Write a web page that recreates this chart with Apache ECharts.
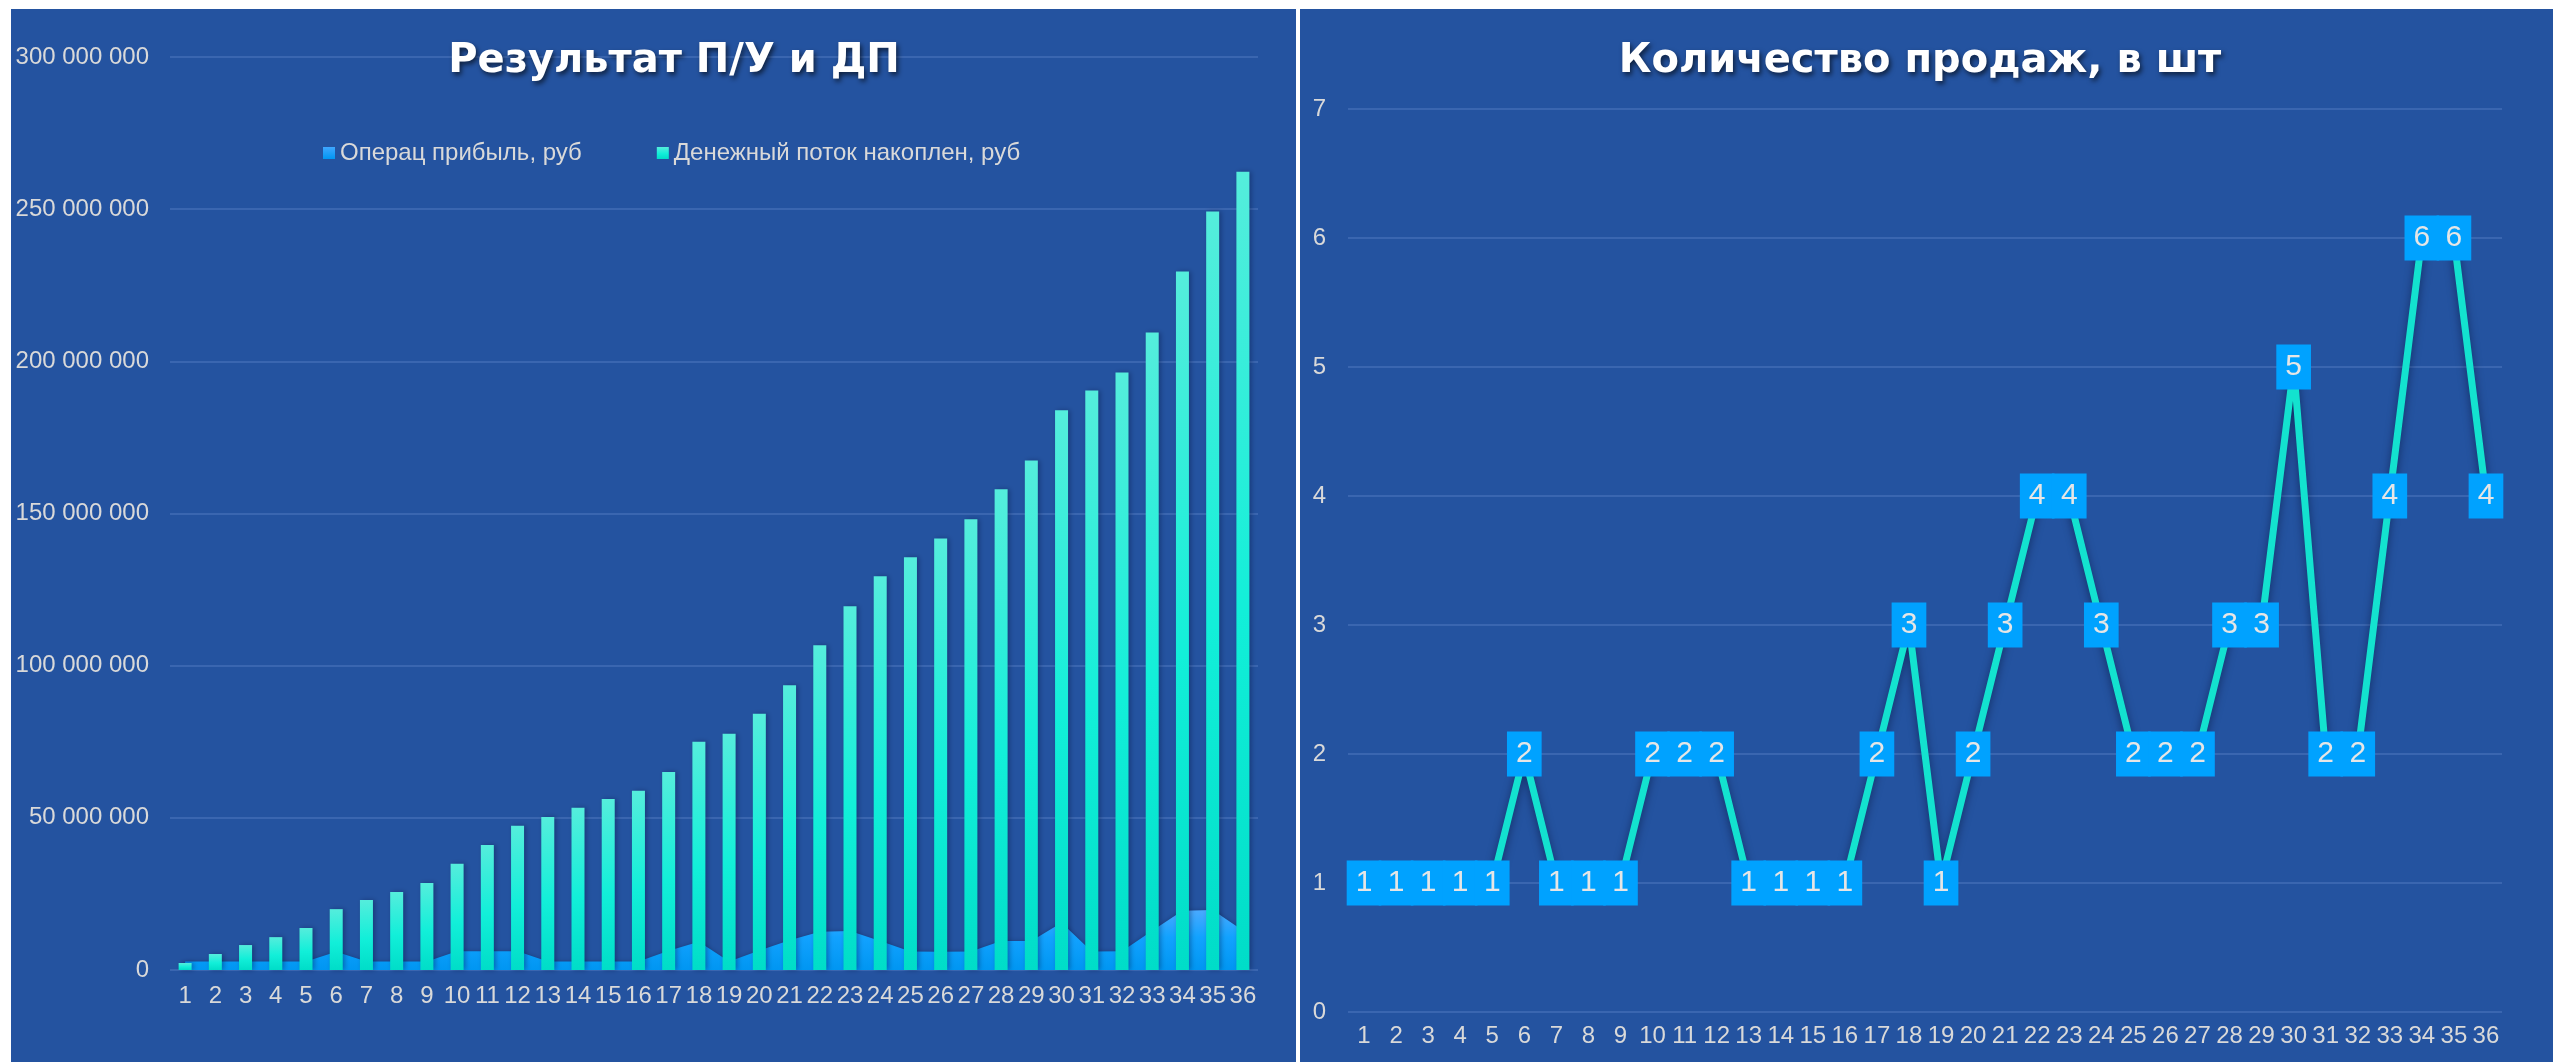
<!DOCTYPE html>
<html>
<head>
<meta charset="utf-8">
<script src="https://cdn.jsdelivr.net/npm/echarts@6/dist/echarts.min.js"></script>
<style>
html,body{margin:0;padding:0;background:#ffffff;width:2553px;height:1062px;overflow:hidden;}
#left{position:absolute;left:11px;top:9px;width:1285px;height:1053px;background:#2453A0;}
#right{position:absolute;left:1300px;top:9px;width:1253px;height:1053px;background:#2453A0;}
</style>
</head>
<body>
<div id="left"></div>
<div id="right"></div>
<script>
// ---- data ----
const months = ['1','2','3','4','5','6','7','8','9','10','11','12','13','14','15','16','17','18','19','20','21','22','23','24','25','26','27','28','29','30','31','32','33','34','35','36'];
const opProfit = [2800000,2800000,2800000,2800000,2800000,6000000,2800000,2800000,2800000,6200000,6200000,6200000,2800000,2800000,2800000,2800000,6300000,9300000,2800000,6400000,9800000,12600000,12800000,9500000,6100000,6000000,6100000,9500000,9500000,15500000,6100000,6200000,12900000,19500000,19700000,13000000];
const cashCum = [2300000,5250000,8200000,10800000,13800000,20000000,23000000,25600000,28600000,34900000,41100000,47400000,50300000,53300000,56200000,58900000,65100000,75000000,77600000,84200000,93600000,106700000,119500000,129400000,135600000,141800000,148100000,158000000,167400000,183900000,190400000,196300000,209500000,229500000,249200000,262300000];
const sales = [1,1,1,1,1,2,1,1,1,2,2,2,1,1,1,1,2,3,1,2,3,4,4,3,2,2,2,3,3,5,2,2,4,6,6,4];
const leftTitle = 'Результат П/У и ДП';
const rightTitle = 'Количество продаж, в шт';
const seriesNames = ['Операц прибыль, руб', 'Денежный поток накоплен, руб'];

const FONT = 'Liberation Sans';
const LABEL = '#D9D9D9';
const GRID = '#3A66B0';
const fmt = v => String(v).replace(/\B(?=(\d{3})+(?!\d))/g, ' ');

const titleStyle = {
  color: '#FFFFFF', fontSize: 40, fontWeight: 'bold', fontFamily: 'DejaVu Sans',
  lineHeight: 50,
  textShadowColor: 'rgba(0,0,0,0.6)', textShadowBlur: 5, textShadowOffsetX: 2, textShadowOffsetY: 3
};

const left = echarts.init(document.getElementById('left'), null, {renderer: 'canvas'});
left.setOption({
  animation: false,
  backgroundColor: '#2453A0',
  title: {text: leftTitle, left: 663, top: 28, padding: 0, textAlign: 'center', textStyle: titleStyle},
  legend: {
    left: 312, top: 132, padding: 0, itemWidth: 12, itemHeight: 12, itemGap: 75, icon: 'rect',
    data: seriesNames,
    textStyle: {color: LABEL, fontSize: 24, fontFamily: FONT, lineHeight: 24}
  },
  grid: {left: 159, right: 38, top: 48, bottom: 92, containLabel: false},
  xAxis: {
    type: 'category', data: months, boundaryGap: true,
    axisLine: {show: false}, axisTick: {show: false},
    axisLabel: {interval: 0, color: LABEL, fontSize: 24, fontFamily: FONT, margin: 14}
  },
  yAxis: {
    type: 'value', min: 0, max: 300000000, interval: 50000000,
    axisLine: {show: false}, axisTick: {show: false},
    splitLine: {lineStyle: {color: GRID, width: 2}},
    axisLabel: {color: LABEL, fontSize: 24, fontFamily: FONT, margin: 21, formatter: fmt}
  },
  series: [
    {
      name: seriesNames[0], type: 'line', data: opProfit, z: 2,
      symbol: 'none', smooth: false,
      lineStyle: {width: 0, color: '#1FA0FF'},
      itemStyle: {color: new echarts.graphic.LinearGradient(0,0,0,1,[{offset:0,color:'#3FA6FF'},{offset:1,color:'#0096F2'}])},
      areaStyle: {
        opacity: 1,
        color: new echarts.graphic.LinearGradient(0,0,0,1,[{offset:0,color:'#4AAAFF'},{offset:0.45,color:'#12A2FF'},{offset:1,color:'#0096F2'}]),
        shadowColor: 'rgba(0,10,40,0.55)', shadowBlur: 6, shadowOffsetY: 2
      }
    },
    {
      name: seriesNames[1], type: 'bar', data: cashCum, z: 3, barWidth: 13,
      itemStyle: {
        color: new echarts.graphic.LinearGradient(0,0,0,1,[{offset:0,color:'#55EDDC'},{offset:0.55,color:'#12EFD9'},{offset:1,color:'#00DDC8'}]),
        shadowColor: 'rgba(0,10,50,0.35)', shadowBlur: 5, shadowOffsetX: 2, shadowOffsetY: 0
      }
    }
  ]
});

const right = echarts.init(document.getElementById('right'), null, {renderer: 'canvas'});
right.setOption({
  animation: false,
  backgroundColor: '#2453A0',
  title: {text: rightTitle, left: 620, top: 28, padding: 0, textAlign: 'center', textStyle: titleStyle},
  grid: {left: 48, right: 51, top: 100, bottom: 50, containLabel: false},
  xAxis: {
    type: 'category', data: months, boundaryGap: true,
    axisLine: {show: false}, axisTick: {show: false},
    axisLabel: {interval: 0, color: LABEL, fontSize: 24, fontFamily: FONT, margin: 12}
  },
  yAxis: {
    type: 'value', min: 0, max: 7, interval: 1,
    axisLine: {show: false}, axisTick: {show: false},
    splitLine: {lineStyle: {color: GRID, width: 2}},
    axisLabel: {color: LABEL, fontSize: 24, fontFamily: FONT, margin: 22}
  },
  series: [{
    type: 'line', data: sales, symbol: 'circle', symbolSize: 1,
    itemStyle: {color: '#00A2FF'},
    lineStyle: {color: '#13E2CF', width: 7, shadowColor: 'rgba(0,10,40,0.5)', shadowBlur: 8, shadowOffsetY: 3},
    label: {
      show: true, position: 'inside', color: '#E6E6E6', fontSize: 30, fontFamily: FONT,
      lineHeight: 31, backgroundColor: '#00A2FF', padding: [7, 9, 7, 9]
    }
  }]
});
</script>
</body>
</html>
